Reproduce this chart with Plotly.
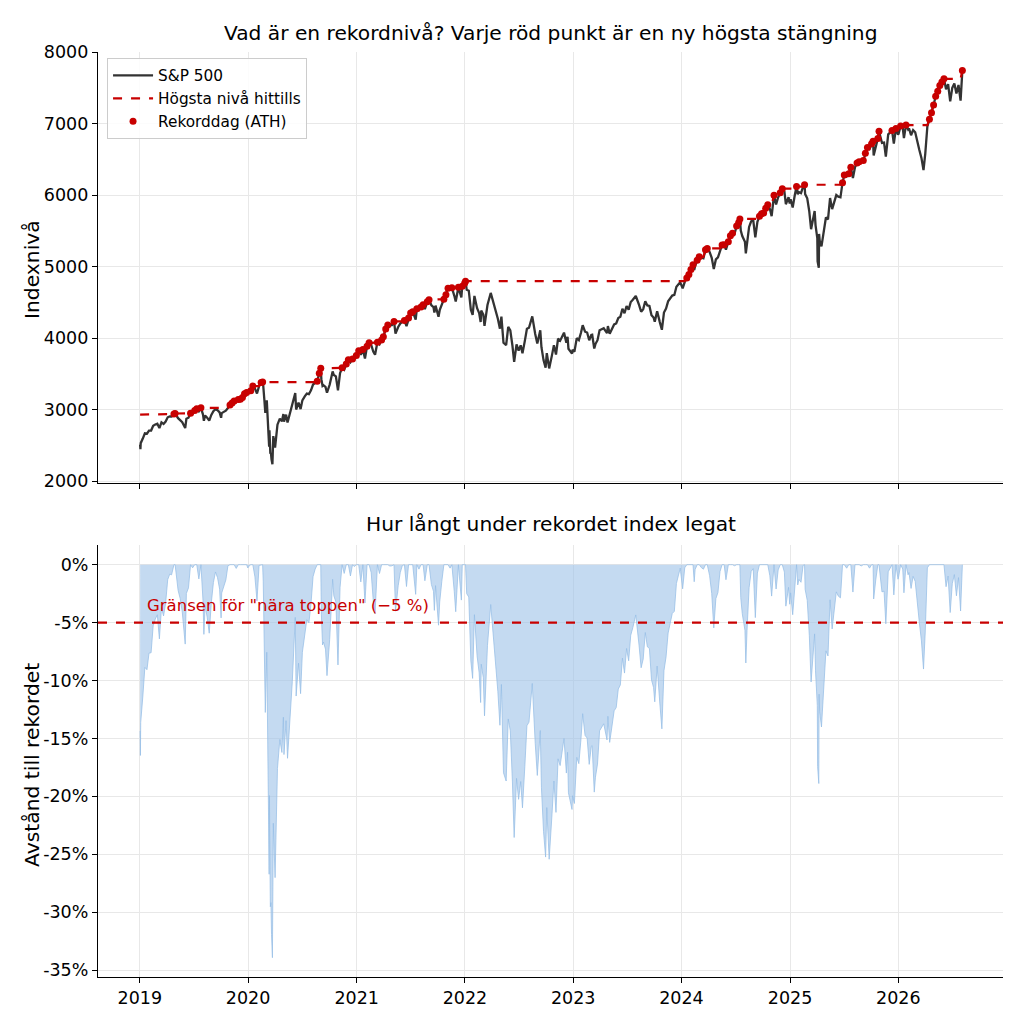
import numpy as np
import pandas as pd
import plotly.graph_objects as go
from plotly.subplots import make_subplots

# ---------------- DATA ----------------
prior_peak = 2930.75  # record close before the chart starts (sep 2018)

dates_2019 = ["2019-01-02","2019-01-03","2019-01-04","2019-01-11","2019-01-18","2019-01-25","2019-02-01","2019-02-08","2019-02-15","2019-02-22","2019-03-01","2019-03-08","2019-03-15","2019-03-22","2019-03-29","2019-04-05","2019-04-12","2019-04-18","2019-04-26","2019-04-30","2019-05-10","2019-05-17","2019-05-24","2019-06-03","2019-06-07","2019-06-14","2019-06-21","2019-06-28","2019-07-05","2019-07-12","2019-07-19","2019-07-26","2019-08-02","2019-08-05","2019-08-09","2019-08-16","2019-08-23","2019-08-30","2019-09-06","2019-09-13","2019-09-20","2019-09-27","2019-10-02","2019-10-04","2019-10-11","2019-10-18","2019-10-25","2019-11-01","2019-11-08","2019-11-15","2019-11-22","2019-11-29","2019-12-06","2019-12-13","2019-12-20","2019-12-27","2019-12-31"]
close_2019 = [2510,2448,2532,2596,2671,2665,2707,2708,2776,2793,2804,2743,2822,2801,2834,2893,2907,2905,2940,2946,2881,2860,2826,2744,2873,2887,2950,2942,2990,3014,2977,3026,2932,2844,2919,2889,2847,2926,2979,3007,2992,2962,2887,2952,2970,2986,3023,3067,3093,3120,3110,3141,3146,3169,3221,3240,3231]

dates_2020 = ["2020-01-03","2020-01-10","2020-01-17","2020-01-24","2020-01-31","2020-02-07","2020-02-14","2020-02-19","2020-02-21","2020-02-25","2020-02-28","2020-03-04","2020-03-06","2020-03-09","2020-03-12","2020-03-13","2020-03-16","2020-03-18","2020-03-20","2020-03-23","2020-03-26","2020-04-01","2020-04-09","2020-04-17","2020-04-24","2020-04-29","2020-05-01","2020-05-08","2020-05-13","2020-05-22","2020-05-29","2020-06-08","2020-06-11","2020-06-19","2020-06-26","2020-07-02","2020-07-10","2020-07-17","2020-07-24","2020-07-31","2020-08-07","2020-08-14","2020-08-21","2020-08-28","2020-09-02","2020-09-04","2020-09-08","2020-09-11","2020-09-18","2020-09-23","2020-10-02","2020-10-09","2020-10-12","2020-10-16","2020-10-23","2020-10-30","2020-11-06","2020-11-13","2020-11-20","2020-11-27","2020-12-04","2020-12-11","2020-12-18","2020-12-24","2020-12-31"]
close_2020 = [3235,3265,3330,3295,3226,3328,3380,3386,3338,3128,2954,3130,2972,2746,2481,2711,2386,2398,2305,2237,2630,2471,2790,2875,2837,2940,2831,2930,2820,2955,3044,3232,3002,3098,3009,3130,3185,3225,3216,3271,3351,3373,3397,3508,3580,3427,3332,3341,3319,3237,3348,3477,3535,3484,3465,3270,3510,3585,3558,3638,3699,3663,3709,3703,3756]

dates_2021 = ["2021-01-08","2021-01-15","2021-01-22","2021-01-29","2021-02-05","2021-02-12","2021-02-19","2021-02-26","2021-03-04","2021-03-12","2021-03-19","2021-03-26","2021-04-01","2021-04-09","2021-04-16","2021-04-23","2021-04-30","2021-05-07","2021-05-12","2021-05-21","2021-05-28","2021-06-04","2021-06-11","2021-06-18","2021-06-25","2021-07-02","2021-07-09","2021-07-19","2021-07-23","2021-07-30","2021-08-06","2021-08-13","2021-08-19","2021-08-27","2021-09-02","2021-09-10","2021-09-17","2021-09-20","2021-09-24","2021-10-04","2021-10-08","2021-10-15","2021-10-22","2021-10-29","2021-11-05","2021-11-12","2021-11-18","2021-11-26","2021-12-01","2021-12-10","2021-12-17","2021-12-20","2021-12-23","2021-12-31"]
close_2021 = [3825,3768,3841,3714,3887,3934,3907,3811,3768,3943,3913,3975,4020,4129,4185,4180,4181,4233,4063,4156,4204,4230,4247,4167,4281,4352,4370,4258,4412,4395,4437,4468,4406,4509,4537,4459,4433,4358,4455,4300,4391,4471,4545,4605,4697,4683,4704,4595,4513,4712,4620,4568,4726,4766]

dates_2022 = ["2022-01-03","2022-01-07","2022-01-14","2022-01-21","2022-01-27","2022-02-02","2022-02-11","2022-02-18","2022-02-23","2022-02-25","2022-03-04","2022-03-08","2022-03-18","2022-03-29","2022-04-08","2022-04-14","2022-04-22","2022-04-29","2022-05-04","2022-05-11","2022-05-20","2022-05-27","2022-06-03","2022-06-10","2022-06-16","2022-06-24","2022-07-01","2022-07-08","2022-07-14","2022-07-22","2022-07-29","2022-08-05","2022-08-16","2022-08-26","2022-09-02","2022-09-12","2022-09-16","2022-09-23","2022-09-30","2022-10-04","2022-10-12","2022-10-21","2022-10-28","2022-11-04","2022-11-11","2022-11-18","2022-12-01","2022-12-09","2022-12-13","2022-12-16","2022-12-28","2022-12-30"]
close_2022 = [4797,4677,4663,4398,4326,4590,4419,4349,4226,4385,4329,4171,4463,4632,4488,4393,4272,4132,4301,3935,3901,4158,4109,3901,3667,3912,3825,3899,3790,3962,4130,4145,4305,4057,3924,4110,3873,3693,3586,3791,3577,3752,3901,3771,3993,3965,4077,3934,4020,3852,3783,3840]

dates_2023 = ["2023-01-05","2023-01-13","2023-01-20","2023-01-27","2023-02-02","2023-02-10","2023-02-17","2023-02-24","2023-03-03","2023-03-06","2023-03-13","2023-03-17","2023-03-24","2023-03-31","2023-04-14","2023-04-25","2023-04-28","2023-05-04","2023-05-12","2023-05-19","2023-05-26","2023-06-02","2023-06-09","2023-06-16","2023-06-23","2023-06-30","2023-07-07","2023-07-14","2023-07-21","2023-07-31","2023-08-11","2023-08-18","2023-08-25","2023-09-01","2023-09-08","2023-09-15","2023-09-22","2023-09-29","2023-10-03","2023-10-11","2023-10-20","2023-10-27","2023-11-03","2023-11-10","2023-11-17","2023-11-24","2023-12-01","2023-12-08","2023-12-15","2023-12-22","2023-12-28","2023-12-29"]
close_2023 = [3808,3999,3973,4071,4180,4090,4079,3970,4045,4048,3855,3917,3971,4109,4138,4071,4169,4061,4124,4192,4205,4282,4299,4410,4348,4450,4399,4505,4536,4589,4464,4370,4406,4516,4457,4450,4320,4288,4229,4377,4224,4117,4358,4415,4514,4559,4595,4604,4719,4754,4783,4770]

dates_2024 = ["2024-01-05","2024-01-12","2024-01-19","2024-01-26","2024-02-02","2024-02-09","2024-02-13","2024-02-16","2024-02-23","2024-03-01","2024-03-08","2024-03-15","2024-03-22","2024-03-28","2024-04-05","2024-04-12","2024-04-19","2024-04-26","2024-05-03","2024-05-10","2024-05-17","2024-05-24","2024-05-30","2024-06-07","2024-06-14","2024-06-21","2024-06-28","2024-07-05","2024-07-12","2024-07-16","2024-07-19","2024-07-24","2024-08-02","2024-08-05","2024-08-09","2024-08-16","2024-08-23","2024-08-30","2024-09-06","2024-09-13","2024-09-20","2024-09-27","2024-10-04","2024-10-11","2024-10-18","2024-10-25","2024-10-31","2024-11-08","2024-11-15","2024-11-22","2024-11-29","2024-12-06","2024-12-13","2024-12-18","2024-12-27","2024-12-31"]
close_2024 = [4697,4784,4840,4891,4959,5027,4953,5006,5089,5137,5124,5117,5234,5254,5204,5123,4967,5100,5128,5223,5303,5305,5236,5347,5432,5465,5460,5567,5615,5667,5505,5427,5346,5186,5344,5554,5634,5648,5408,5626,5703,5738,5751,5815,5864,5808,5705,5996,5870,5969,6032,6090,6051,5872,5971,5882]

dates_2025 = ["2025-01-03","2025-01-10","2025-01-17","2025-01-23","2025-01-27","2025-01-31","2025-02-07","2025-02-14","2025-02-19","2025-02-21","2025-02-28","2025-03-07","2025-03-13","2025-03-21","2025-03-25","2025-03-28","2025-04-03","2025-04-04","2025-04-08","2025-04-09","2025-04-11","2025-04-17","2025-04-25","2025-05-02","2025-05-09","2025-05-16","2025-05-23","2025-05-30","2025-06-06","2025-06-13","2025-06-20","2025-06-27","2025-07-03","2025-07-11","2025-07-18","2025-07-25","2025-08-01","2025-08-08","2025-08-15","2025-08-22","2025-08-29","2025-09-05","2025-09-12","2025-09-19","2025-09-26","2025-10-03","2025-10-08","2025-10-10","2025-10-17","2025-10-24","2025-10-28","2025-11-04","2025-11-07","2025-11-14","2025-11-20","2025-11-28","2025-12-05","2025-12-11","2025-12-17","2025-12-24","2025-12-31"]
close_2025 = [5942,5827,5997,6119,6012,6041,6026,6115,6144,6013,5955,5770,5522,5668,5777,5581,5397,5074,4983,5457,5363,5283,5525,5687,5660,5958,5803,5912,6000,5977,5968,6173,6279,6260,6297,6389,6238,6389,6450,6467,6460,6482,6584,6664,6644,6716,6753,6553,6664,6792,6891,6771,6729,6734,6539,6849,6870,6901,6721,6932,6845]

dates_2026 = ["2026-01-02","2026-01-09","2026-01-16","2026-01-20","2026-01-27","2026-02-03","2026-02-06","2026-02-13","2026-02-20","2026-02-27","2026-03-06","2026-03-13","2026-03-20","2026-03-27","2026-04-02","2026-04-09","2026-04-16","2026-04-23","2026-04-30","2026-05-07","2026-05-14","2026-05-21","2026-05-28","2026-06-04","2026-06-11","2026-06-18","2026-06-25","2026-07-02","2026-07-09","2026-07-16","2026-07-23","2026-07-30","2026-08-05"]
close_2026 = [6858,6966,6940,6797,6979,6918,6932,6836,6909,6878,6740,6630,6520,6350,6580,6960,7060,7150,7260,7380,7450,7530,7580,7625,7480,7550,7310,7500,7560,7420,7540,7320,7740]

year_ticks = ["2019-01-01","2020-01-01","2021-01-01","2022-01-01","2023-01-01","2024-01-01","2025-01-01","2026-01-01"]
year_labels = ["2019","2020","2021","2022","2023","2024","2025","2026"]
level_ticks = [2000, 3000, 4000, 5000, 6000, 7000, 8000]
dd_ticks = [0, -5, -10, -15, -20, -25, -30, -35]
dd_labels = ["0%", "-5%", "-10%", "-15%", "-20%", "-25%", "-30%", "-35%"]
near_top_limit = -5

# ---------------- DERIVED ----------------
dates = pd.to_datetime(dates_2019 + dates_2020 + dates_2021 + dates_2022 +
                       dates_2023 + dates_2024 + dates_2025 + dates_2026)
close = np.array(close_2019 + close_2020 + close_2021 + close_2022 +
                 close_2023 + close_2024 + close_2025 + close_2026, dtype=float)

running_max = np.maximum.accumulate(np.concatenate([[prior_peak], close]))
prev_max = running_max[:-1]
running_max = running_max[1:]
is_ath = close > prev_max
drawdown = (close / running_max - 1.0) * 100.0

RED = "#c80000"
DARK = "#333333"
GRID = "#e8e8e8"
FONT = "DejaVu Sans"

fig = make_subplots(rows=2, cols=1, shared_xaxes=False, vertical_spacing=0.0)

fig.add_trace(go.Scatter(x=dates, y=close, mode="lines", name="S&P 500",
                         line=dict(color=DARK, width=2.3)), row=1, col=1)
fig.add_trace(go.Scatter(x=dates, y=running_max, mode="lines", name="Högsta nivå hittills",
                         line=dict(color=RED, width=2.2, dash="dash")), row=1, col=1)
fig.add_trace(go.Scatter(x=dates[is_ath], y=close[is_ath], mode="markers", name="Rekorddag (ATH)",
                         marker=dict(color=RED, size=7, line=dict(width=0))), row=1, col=1)

fig.add_trace(go.Scatter(x=dates, y=drawdown, mode="lines", fill="tozeroy",
                         fillcolor="rgba(160,196,232,0.62)",
                         line=dict(color="rgba(150,190,230,0.75)", width=1),
                         showlegend=False), row=2, col=1)

fig.add_hline(y=near_top_limit, row=2, col=1, line=dict(color=RED, width=2.2, dash="dash"))

# page body has an 8px offset; margins are set so that the plot areas land
# at the reference pixel positions (left 98, right 1003, top 52, bottom 977)
W, H = 1024, 1024
OFF = 8
ml, mr, mt, mb = 98 - OFF, 1024 - 1003 + OFF, 52 - OFF, 1024 - 977 - OFF
ph = H - mt - mb
pw = W - ml - mr
def py(p):
    return (H - mb - (p - OFF)) / ph
def px(p):
    return (p - OFF - ml) / pw

xrange_ = ["2018-08-13", "2026-12-20"]
axis_common = dict(showline=True, linecolor="#000000", linewidth=1.2, mirror=False,
                   ticks="outside", ticklen=5, tickwidth=1.2, tickcolor="#000000",
                   showgrid=True, gridcolor=GRID, gridwidth=1, zeroline=False,
                   tickfont=dict(family=FONT, size=17.5, color="#000000"))

fig.update_layout(
    width=W, height=H,
    margin=dict(l=ml, r=mr, t=mt, b=mb),
    paper_bgcolor="white", plot_bgcolor="white",
    font=dict(family=FONT, color="#000000"),
    showlegend=True,
    legend=dict(x=0.01, y=py(58), xanchor="left", yanchor="top",
                bgcolor="rgba(255,255,255,0.85)", bordercolor="#cccccc", borderwidth=1,
                font=dict(family=FONT, size=15.3, color="#000000"),
                itemwidth=40, tracegroupgap=4),
)

fig.update_xaxes(**axis_common, type="date", range=xrange_,
                 tickvals=year_ticks, ticktext=year_labels)
fig.update_xaxes(showticklabels=False, row=1, col=1)
fig.update_xaxes(domain=[0, 1], row=1, col=1)
fig.update_xaxes(domain=[0, 1], row=2, col=1)

fig.update_yaxes(**axis_common)
fig.update_yaxes(domain=[py(483), py(52)], range=[1975, 8000], tickvals=level_ticks,
                 row=1, col=1)
fig.update_yaxes(domain=[py(977), py(545)], range=[-35.6, 1.7], tickvals=dd_ticks, ticktext=dd_labels,
                 row=2, col=1)

# axis titles placed as rotated text at the reference positions
fig.add_annotation(text="Indexnivå", textangle=-90,
                   xref="paper", yref="paper", x=px(32), y=py(270), xanchor="center", yanchor="middle",
                   showarrow=False, font=dict(family=FONT, size=20.3, color="#000000"))
fig.add_annotation(text="Avstånd till rekordet", textangle=-90,
                   xref="paper", yref="paper", x=px(32), y=py(765), xanchor="center", yanchor="middle",
                   showarrow=False, font=dict(family=FONT, size=20.3, color="#000000"))

fig.add_annotation(text="Vad är en rekordnivå? Varje röd punkt är en ny högsta stängning",
                   xref="paper", yref="paper", x=0.5, y=py(33), xanchor="center", yanchor="middle",
                   showarrow=False, font=dict(family=FONT, size=20.2, color="#000000"))
fig.add_annotation(text="Hur långt under rekordet index legat",
                   xref="paper", yref="paper", x=0.5, y=py(524), xanchor="center", yanchor="middle",
                   showarrow=False, font=dict(family=FONT, size=20.2, color="#000000"))
fig.add_annotation(text="Gränsen för \"nära toppen\" (\u22125 %)",
                   xref="x2", yref="y2", x="2019-01-20", y=near_top_limit + 0.45,
                   xanchor="left", yanchor="bottom", showarrow=False,
                   font=dict(family=FONT, size=16.5, color=RED))

fig.write_html("out.html")
